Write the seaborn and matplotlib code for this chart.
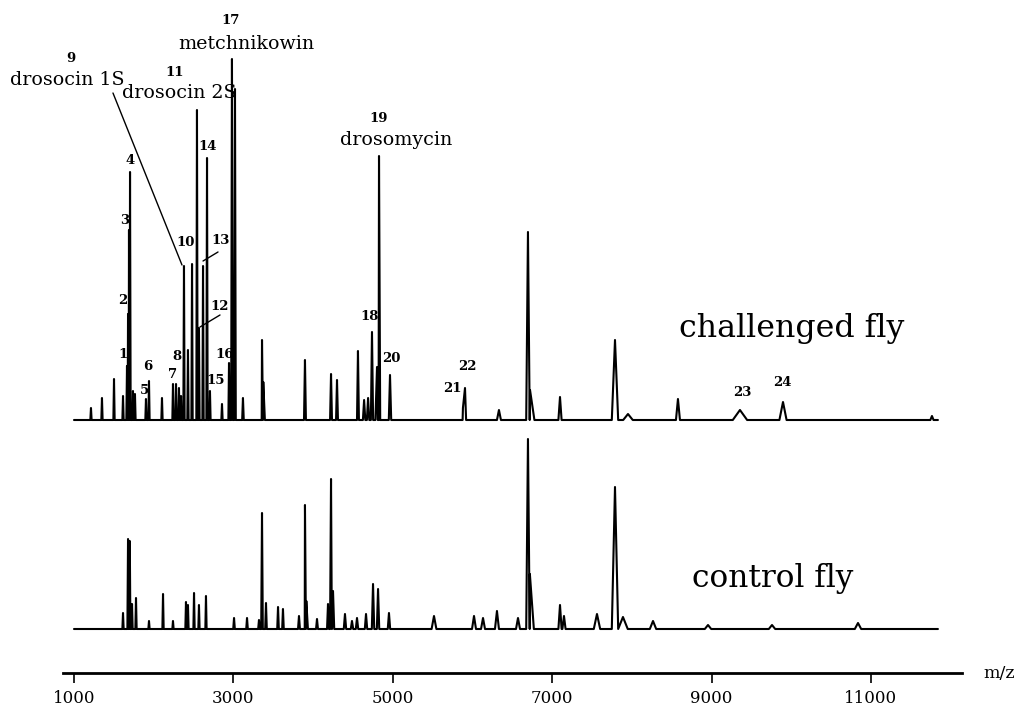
import numpy as np
import pandas as pd
import matplotlib
matplotlib.use("Agg")
import matplotlib.pyplot as plt
import seaborn as sns

# peak lists: m/z, intensity (a.u.), half width (m/z)
chal_mz = [1213, 1351, 1502, 1615, 1665, 1678, 1690, 1703, 1740, 1765, 1903, 1941,
           2104, 2242, 2280, 2317, 2343, 2380, 2430, 2481, 2543, 2568, 2619, 2669,
           2706, 2857, 2945, 2982, 3020, 3120, 3359, 3375, 3898, 4225, 4300, 4563,
           4640, 4690, 4739, 4802, 4827, 4965, 5880, 5906, 6332, 6696, 6722, 7098,
           7788, 7951, 8578, 9356, 9896, 11765]
chal_int = [12, 22, 41, 24, 54, 106, 190, 248, 29, 26, 21, 39,
            22, 36, 36, 32, 24, 154, 70, 156, 310, 92, 154, 262,
            29, 16, 57, 361, 331, 22, 80, 38, 60, 46, 40, 69,
            20, 22, 88, 53, 264, 45, 12, 32, 10, 188, 30, 23,
            80, 6, 21, 10, 18, 4]
chal_wid = [8, 8, 8, 8, 8, 8, 8, 8, 8, 8, 8, 8,
            8, 8, 8, 8, 8, 8, 8, 8, 8, 8, 8, 8,
            8, 8, 8, 10, 10, 10, 12, 20, 12, 12, 12, 12,
            15, 15, 14, 20, 15, 15, 40, 30, 25, 22, 55, 20,
            40, 60, 25, 90, 45, 20]

ctrl_mz = [1615, 1678, 1700, 1728, 1778, 1941, 2117, 2242, 2405, 2430, 2506, 2568,
           2656, 3008, 3171, 3321, 3359, 3409, 3560, 3622, 3823, 3898, 3915, 4049,
           4187, 4225, 4250, 4400, 4488, 4551, 4664, 4752, 4815, 4952, 5517, 6019,
           6132, 6307, 6571, 6696, 6720, 7098, 7148, 7562, 7788, 7888, 8265, 8955,
           9758, 10837]
ctrl_int = [16, 90, 88, 25, 31, 8, 35, 8, 27, 24, 36, 24,
            33, 11, 11, 9, 116, 26, 22, 20, 13, 124, 28, 10,
            25, 150, 38, 15, 8, 11, 15, 45, 40, 16, 13, 13,
            11, 18, 11, 190, 55, 24, 13, 15, 142, 12, 8, 4,
            4, 6]
ctrl_wid = [8, 8, 8, 8, 8, 8, 8, 8, 8, 8, 8, 8,
            8, 10, 10, 10, 10, 10, 10, 10, 12, 12, 20, 12,
            12, 12, 15, 15, 15, 15, 15, 15, 15, 15, 30, 25,
            25, 25, 25, 22, 50, 20, 20, 40, 40, 60, 40, 40,
            40, 40]

mz_start, mz_end = 1000, 11840
ctrl_offset = -209

# peak labels: (text, m/z, y)
peak_labels = [("1", 1620, 65), ("2", 1615, 119), ("3", 1640, 200), ("4", 1705, 259),
               ("5", 1880, 30), ("6", 1930, 54), ("7", 2235, 45), ("8", 2290, 63),
               ("9", 962, 362), ("10", 2405, 178), ("11", 2267, 348), ("12", 2830, 114),
               ("13", 2845, 180), ("14", 2680, 273), ("15", 2780, 39), ("16", 2890, 66),
               ("17", 2970, 400), ("18", 4714, 103), ("19", 4827, 302), ("20", 4987, 61),
               ("21", 5742, 32), ("22", 5930, 53), ("23", 9390, 28), ("24", 9892, 37)]
name_labels = [("drosocin 1S", 912, 340), ("drosocin 2S", 2317, 327),
               ("metchnikowin", 3158, 376), ("drosomycin", 5040, 280)]
pointers = [((1489, 327), (2355, 155)), ((2807, 168), (2619, 159)),
            ((2832, 105), (2581, 93))]
ticks = [1000, 3000, 5000, 7000, 9000, 11000]


def build_trace(mz, inten, wid, offset):
    xs = [mz_start, mz_end]
    ys = [0, 0]
    for m, h, w in zip(mz, inten, wid):
        xs += [m - w, m, m + w]
        ys += [0, h, 0]
    df = pd.DataFrame({"mz": xs, "y": np.array(ys, dtype=float) + offset})
    return df.sort_values("mz", kind="stable")


chal = build_trace(chal_mz, chal_int, chal_wid, 0)
ctrl = build_trace(ctrl_mz, ctrl_int, ctrl_wid, ctrl_offset)

sns.set_style("white")
plt.rcParams["font.family"] = ["DejaVu Serif"]
plt.rcParams["text.color"] = "black"
plt.rcParams["xtick.color"] = "black"
plt.rcParams["axes.edgecolor"] = "black"

fig = plt.figure(figsize=(10.31, 7.13), dpi=100)
ax = fig.add_axes([63 / 1031, 40 / 713, 899 / 1031, 673 / 713])

sns.lineplot(data=chal, x="mz", y="y", ax=ax, color="black", lw=1.5,
             estimator=None, sort=False)
sns.lineplot(data=ctrl, x="mz", y="y", ax=ax, color="black", lw=1.5,
             estimator=None, sort=False)

ax.set_xlim(862, 12142)
ax.set_ylim(-253, 420)

for t, x, y in peak_labels:
    ax.text(x, y, t, ha="center", va="center", fontsize=9.5, fontweight="bold",
            color="black")
for t, x, y in name_labels:
    ax.text(x, y, t, ha="center", va="center", fontsize=13.7, color="black")
for (x0, y0), (x1, y1) in pointers:
    ax.plot([x0, x1], [y0, y1], color="black", lw=1.0)

ax.text(10009, 91, "challenged fly", ha="center", va="center", fontsize=22.8,
        color="black")
ax.text(9770, -158, "control fly", ha="center", va="center", fontsize=22.5,
        color="black")
ax.text(12406, -253, "m/z", ha="left", va="center", fontsize=12.5,
        color="black", clip_on=False)

sns.despine(ax=ax, left=True)
ax.spines["bottom"].set_linewidth(2)
ax.spines["bottom"].set_color("black")
ax.set_yticks([])
ax.set_xticks(ticks)
ax.set_xticklabels([str(t) for t in ticks])
ax.tick_params(axis="x", direction="out", length=7, width=1.2, pad=5,
               labelsize=12, bottom=True, colors="black")
ax.set_xlabel("")
ax.set_ylabel("")

fig.savefig("out.png", dpi=100)
